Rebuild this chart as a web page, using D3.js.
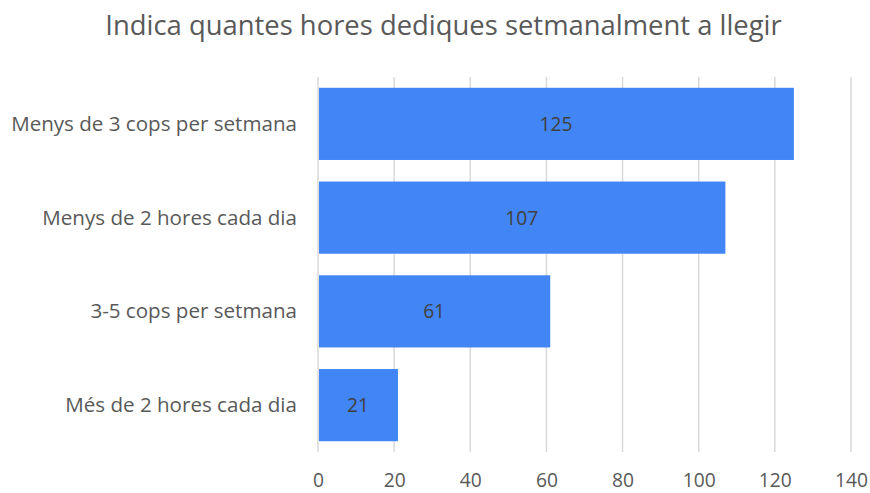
<!DOCTYPE html>
<html>
<head>
<meta charset="utf-8">
<script src="https://cdn.jsdelivr.net/npm/d3@7"></script>
<style>
  html, body { margin: 0; padding: 0; background: #fff; }
  svg { display: block; font-family: "Open Sans", sans-serif; }
</style>
</head>
<body>
<svg id="chart" width="870" height="493"></svg>
<script>
// Weekly reading time answers
const categories = [
  "Menys de 3 cops per setmana",
  "Menys de 2 hores cada dia",
  "3-5 cops per setmana",
  "Més de 2 hores cada dia"
];
const values = [125, 107, 61, 21];
const tickValues = [0, 20, 40, 60, 80, 100, 120, 140];
const title = "Indica quantes hores dediques setmanalment a llegir";

const svg = d3.select("#chart");
const margin = { left: 318, right: 19, top: 77, bottom: 41 };
const width = 870, height = 493;

// pick a font size so that a sample string spans the wanted width
function fitSize(sample, targetWidth, family) {
  const probe = svg.append("text")
    .style("font-family", family)
    .style("font-size", "20px")
    .text(sample);
  const w = probe.node().getComputedTextLength();
  probe.remove();
  return 20 * targetWidth / w;
}
const FONT = "'Open Sans', sans-serif";
const titleSize = fitSize(title, 677, FONT);
const catSize = fitSize(categories[0], 286, FONT);
const numSize = fitSize("140", 33, FONT);

const x = d3.scaleLinear()
  .domain([0, 140])
  .range([margin.left, width - margin.right]);

const y = d3.scaleBand()
  .domain(categories)
  .range([margin.top, height - margin.bottom])
  .paddingInner(0.23)
  .paddingOuter(0.115);

// vertical gridlines
svg.append("g")
  .selectAll("line")
  .data(tickValues)
  .join("line")
  .attr("x1", d => x(d)).attr("x2", d => x(d))
  .attr("y1", margin.top).attr("y2", height - margin.bottom)
  .attr("stroke", "#d9d9d9")
  .attr("stroke-width", 1.5);

// bars
svg.append("g")
  .selectAll("rect")
  .data(values)
  .join("rect")
  .attr("x", x(0) + 1)
  .attr("y", (d, i) => y(categories[i]))
  .attr("width", d => x(d) - x(0) - 1)
  .attr("height", y.bandwidth())
  .attr("fill", "#4285f4");

// value labels
svg.append("g")
  .selectAll("text")
  .data(values)
  .join("text")
  .attr("x", d => (x(0) + x(d)) / 2)
  .attr("y", (d, i) => y(categories[i]) + y.bandwidth() / 2 + 7)
  .attr("text-anchor", "middle")
  .attr("fill", "#404040")
  .style("font-size", numSize + "px")
  .text(d => d);

// x axis labels
const xAxis = d3.axisBottom(x).tickValues(tickValues).tickSize(0).tickPadding(0);
const gx = svg.append("g")
  .attr("transform", `translate(0, ${height - margin.bottom})`)
  .call(xAxis);
gx.select(".domain").remove();
gx.selectAll("text")
  .attr("y", 0)
  .attr("dy", null)
  .attr("transform", "translate(0, 35)")
  .attr("fill", "#595959")
  .style("font-size", numSize + "px")
  .style("font-family", FONT);

// category labels
const yAxis = d3.axisLeft(y).tickSize(0).tickPadding(21);
const gy = svg.append("g")
  .attr("transform", `translate(${margin.left}, 0)`)
  .call(yAxis);
gy.select(".domain").remove();
gy.selectAll("text")
  .attr("dy", null)
  .attr("y", 7)
  .attr("fill", "#595959")
  .style("font-size", catSize + "px")
  .style("font-family", FONT);

// title
svg.append("text")
  .attr("x", 443.5)
  .attr("y", 35)
  .attr("text-anchor", "middle")
  .attr("fill", "#595959")
  .style("font-size", titleSize + "px")
  .text(title);
</script>
</body>
</html>
